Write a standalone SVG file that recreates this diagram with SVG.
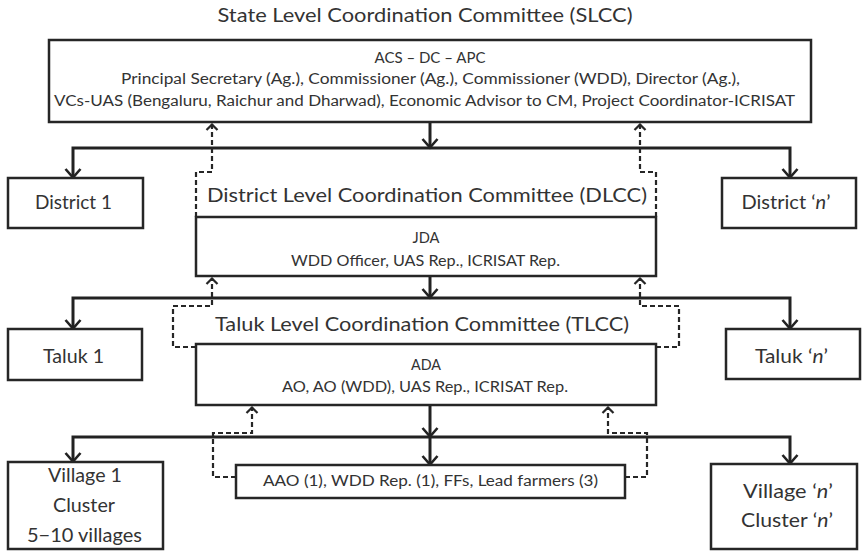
<svg xmlns="http://www.w3.org/2000/svg" width="866" height="551" viewBox="0 0 866 551">
  <style>
    text { font-family: Lato, "Open Sans", "Liberation Sans", sans-serif; fill: #333333; text-anchor: middle; }
    .box { fill: #ffffff; stroke: #262626; stroke-width: 2.5; }
    .t15 { font-size: 15.5px; }
    .t19 { font-size: 19px; }
    .t20 { font-size: 20px; }
    .head { font-size: 20px; }
    .flow { fill: none; stroke: #222222; stroke-width: 3; stroke-linejoin: miter; }
    .back { fill: none; stroke: #262626; stroke-width: 2.2; stroke-dasharray: 5 3; }
  </style>
  <defs>
    <marker id="down" markerUnits="userSpaceOnUse" markerWidth="12" markerHeight="18" viewBox="0 0 12 18" refX="10.5" refY="9" orient="auto-start-reverse">
      <path d="M1.5,1.5 L10,9 L1.5,16.5" fill="none" stroke="#222222" stroke-width="2.6"/>
    </marker>
    <marker id="up" markerUnits="userSpaceOnUse" markerWidth="9" markerHeight="14" viewBox="0 0 9 14" refX="7.5" refY="7" orient="auto">
      <path d="M1.5,1.5 L7,7 L1.5,12.5" fill="none" stroke="#262626" stroke-width="2.2"/>
    </marker>
  </defs>

  <!-- connectors -->
  <g id="connectors">
    <!-- state level to districts -->
    <path class="flow" d="M430,122 V148" marker-end="url(#down)"/>
    <path class="flow" d="M73,178 V148 H790 V178" marker-start="url(#down)" marker-end="url(#down)"/>
    <path class="back" d="M196,217 V172 H212 V124" marker-end="url(#up)"/>
    <path class="back" d="M656,217 V172 H640 V124" marker-end="url(#up)"/>
    <!-- district level to taluks -->
    <path class="flow" d="M430,276 V298" marker-end="url(#down)"/>
    <path class="flow" d="M73,329 V298 H790 V329" marker-start="url(#down)" marker-end="url(#down)"/>
    <path class="back" d="M196,347 H173 V306 H212 V278" marker-end="url(#up)"/>
    <path class="back" d="M656,347 H679 V306 H640 V278" marker-end="url(#up)"/>
    <!-- taluk level to villages -->
    <path class="flow" d="M430,405 V437" marker-end="url(#down)"/>
    <path class="flow" d="M73,462 V437 H790 V464" marker-start="url(#down)" marker-end="url(#down)"/>
    <path class="flow" d="M430,437 V465" marker-end="url(#down)"/>
    <path class="back" d="M236,477 H213 V433 H252 V407" marker-end="url(#up)"/>
    <path class="back" d="M625,477 H647 V433 H608 V407" marker-end="url(#up)"/>
  </g>

  <g id="slcc">
    <text class="t20" x="425" y="22" textLength="415" lengthAdjust="spacingAndGlyphs">State Level Coordination Committee (SLCC)</text>
    <rect class="box" x="49" y="40" width="762" height="82"/>
    <text class="t15" x="430" y="63" textLength="111" lengthAdjust="spacingAndGlyphs">ACS – DC – APC</text>
    <text class="t15" x="430.5" y="84" textLength="619" lengthAdjust="spacingAndGlyphs">Principal Secretary (Ag.), Commissioner (Ag.), Commissioner (WDD), Director (Ag.),</text>
    <text class="t15" x="424.5" y="106" textLength="741" lengthAdjust="spacingAndGlyphs">VCs-UAS (Bengaluru, Raichur and Dharwad), Economic Advisor to CM, Project Coordinator-ICRISAT</text>
  </g>

  <g id="district-1">
    <rect class="box" x="8" y="178" width="135" height="50"/>
    <text class="t19" x="73.5" y="209" textLength="77" lengthAdjust="spacingAndGlyphs">District 1</text>
  </g>

  <g id="district-n">
    <rect class="box" x="722" y="178" width="134" height="50"/>
    <text class="t19" x="786" y="209" textLength="89" lengthAdjust="spacingAndGlyphs">District ‘<tspan font-style="italic">n</tspan>’</text>
  </g>

  <g id="dlcc">
    <text class="head" x="427" y="202" textLength="440" lengthAdjust="spacingAndGlyphs">District Level Coordination Committee (DLCC)</text>
    <rect class="box" x="196" y="217" width="460" height="59"/>
    <text class="t15" x="426" y="243" textLength="27" lengthAdjust="spacingAndGlyphs">JDA</text>
    <text class="t15" x="425.5" y="266" textLength="269" lengthAdjust="spacingAndGlyphs">WDD Officer, UAS Rep., ICRISAT Rep.</text>
  </g>

  <g id="taluk-1">
    <rect class="box" x="8" y="329" width="134" height="51"/>
    <text class="t19" x="73.5" y="363" textLength="61" lengthAdjust="spacingAndGlyphs">Taluk 1</text>
  </g>

  <g id="taluk-n">
    <rect class="box" x="726" y="329" width="134" height="50"/>
    <text class="t19" x="791.5" y="363" textLength="73" lengthAdjust="spacingAndGlyphs">Taluk ‘<tspan font-style="italic">n</tspan>’</text>
  </g>

  <g id="tlcc">
    <text class="head" x="422" y="331" textLength="414" lengthAdjust="spacingAndGlyphs">Taluk Level Coordination Committee (TLCC)</text>
    <rect class="box" x="196" y="344" width="460" height="61"/>
    <text class="t15" x="426" y="370" textLength="30" lengthAdjust="spacingAndGlyphs">ADA</text>
    <text class="t15" x="425" y="392" textLength="286" lengthAdjust="spacingAndGlyphs">AO, AO (WDD), UAS Rep., ICRISAT Rep.</text>
  </g>

  <g id="village-1">
    <rect class="box" x="8" y="462" width="155" height="87"/>
    <text class="t19" x="85" y="482" textLength="74" lengthAdjust="spacingAndGlyphs">Village 1</text>
    <text class="t19" x="84" y="512" textLength="62" lengthAdjust="spacingAndGlyphs">Cluster</text>
    <text class="t19" x="84.5" y="542" textLength="115" lengthAdjust="spacingAndGlyphs">5−10 villages</text>
  </g>

  <g id="field-team">
    <rect class="box" x="236" y="465" width="389" height="33"/>
    <text class="t15" x="430.5" y="486" textLength="335" lengthAdjust="spacingAndGlyphs">AAO (1), WDD Rep. (1), FFs, Lead farmers (3)</text>
  </g>

  <g id="village-n">
    <rect class="box" x="711" y="464" width="146" height="85"/>
    <text class="t19" x="788" y="498" textLength="90" lengthAdjust="spacingAndGlyphs">Village ‘<tspan font-style="italic">n</tspan>’</text>
    <text class="t19" x="787" y="527" textLength="92" lengthAdjust="spacingAndGlyphs">Cluster ‘<tspan font-style="italic">n</tspan>’</text>
  </g>
</svg>
